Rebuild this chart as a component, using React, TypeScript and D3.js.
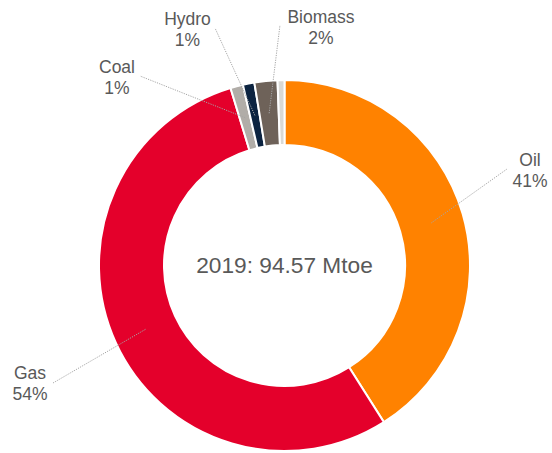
import * as d3 from 'd3';

// energy mix shares (%)
const sources = ['Oil', 'Gas', 'Coal', 'Hydro', 'Biomass', 'Other'];
const shares = [41.0, 54.3, 1.1, 1.0, 2.0, 0.6];
const shareLabels = ['41%', '54%', '1%', '1%', '2%', ''];
const colors = ['#FF8200', '#E4002B', '#B1ADA8', '#0C2340', '#6E6259', '#D9D9D6'];
const centerLabel = '2019: 94.57 Mtoe';

// label layout: text centre, first baseline, leader end point
const labelLayout = {
  Oil: { tx: 530, ty: 166, lx: 507, ly: 169 },
  Gas: { tx: 30, ty: 379, lx: 53, ly: 383 },
  Coal: { tx: 117, ty: 72.5, lx: 140, ly: 76 },
  Hydro: { tx: 187.5, ty: 25, lx: 215, ly: 28 },
  Biomass: { tx: 321, ty: 22.5, lx: 280, ly: 25 },
};

const width = 552;
const height = 453;
const cx = 284.5;
const cy = 265.5;
const outerR = 185.5;
const innerR = 120.5;

export default function App() {
  const data = sources.map((s, i) => ({ name: s, value: shares[i], label: shareLabels[i], color: colors[i] }));
  const pie = d3.pie<any>().sort(null).value(d => d.value).startAngle(0).endAngle(Math.PI * 2);
  const arcs = pie(data);
  const arc = d3.arc<any>().innerRadius(innerR).outerRadius(outerR);
  const midArc = d3.arc<any>().innerRadius((innerR + outerR) / 2).outerRadius((innerR + outerR) / 2);

  return (
    <svg width={width} height={height} style={{ position: 'absolute', left: 0, top: 0, fontFamily: '"Liberation Sans", Arial, sans-serif' }}>
      <rect width={width} height={height} fill="#fff" />
      <g transform={`translate(${cx},${cy})`}>
        {arcs.map(a => (
          <path key={a.data.name} d={arc(a) as string} fill={a.data.color} stroke="#fff" strokeWidth={2} />
        ))}
        {arcs.map(a => {
          const lay = (labelLayout as any)[a.data.name];
          if (!lay) return null;
          const [mx, my] = midArc.centroid(a);
          return (
            <line key={'l' + a.data.name} x1={mx} y1={my} x2={lay.lx - cx} y2={lay.ly - cy}
              stroke="#A6A6A6" strokeWidth={1} strokeDasharray="1.2,1.2" />
          );
        })}
        <text x={0} y={273 - cy} textAnchor="middle" fontSize={22.7} fill="#595959">{centerLabel}</text>
      </g>
      {arcs.map(a => {
        const lay = (labelLayout as any)[a.data.name];
        if (!lay) return null;
        return (
          <text key={'t' + a.data.name} textAnchor="middle" fontSize={17.5} fill="#595959">
            <tspan x={lay.tx} y={lay.ty}>{a.data.name}</tspan>
            <tspan x={lay.tx} y={lay.ty + 21}>{a.data.label}</tspan>
          </text>
        );
      })}
    </svg>
  );
}
